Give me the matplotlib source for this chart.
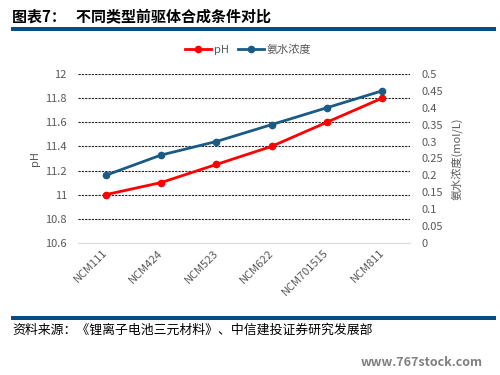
import matplotlib
matplotlib.use("Agg")
import matplotlib.pyplot as plt
from matplotlib.patches import Rectangle

plt.rcParams['font.family'] = ['Noto Sans CJK SC', 'DejaVu Sans']

categories = ["NCM111", "NCM424", "NCM523", "NCM622", "NCM701515", "NCM811"]
ph_values = [11.0, 11.1, 11.25, 11.4, 11.6, 11.8]
ammonia_values = [0.2, 0.26, 0.3, 0.35, 0.4, 0.45]
left_ticks = [10.6, 10.8, 11.0, 11.2, 11.4, 11.6, 11.8, 12.0]
left_tick_labels = ["10.6", "10.8", "11", "11.2", "11.4", "11.6", "11.8", "12"]
right_ticks = [0, 0.05, 0.1, 0.15, 0.2, 0.25, 0.3, 0.35, 0.4, 0.45, 0.5]
right_tick_labels = ["0", "0.05", "0.1", "0.15", "0.2", "0.25", "0.3", "0.35", "0.4", "0.45", "0.5"]

RED = "#FF0000"
BLUE = "#1B5A85"
BAR = "#0B4C7E"
GRAY = "#595959"

fig = plt.figure(figsize=(5, 3.75), dpi=100)
fig.patch.set_facecolor("white")

ax = fig.add_axes([0.156, 0.352, 0.664, 0.451])
ax2 = ax.twinx()

x = list(range(len(categories)))
ax.plot(x, ph_values, color=RED, lw=2, marker="o", ms=4.5, label="pH", zorder=3)
ax2.plot(x, ammonia_values, color=BLUE, lw=2, marker="o", ms=4.5, label="氨水浓度", zorder=3)

ax.set_xlim(-0.5, len(categories) - 0.5)
ax.set_ylim(10.6, 12.0)
ax2.set_ylim(0, 0.5)
ax.set_yticks(left_ticks)
ax.set_yticklabels(left_tick_labels)
ax2.set_yticks(right_ticks)
ax2.set_yticklabels(right_tick_labels)
ax.set_xticks(x)
ax.set_xticklabels(categories, rotation=45, ha="right", va="center", rotation_mode="anchor")

for t in left_ticks[1:]:
    ax.axhline(t, color="#222222", lw=0.8, ls=(0, (2, 1)), zorder=1)

for a in (ax, ax2):
    for s in a.spines.values():
        s.set_visible(False)
    a.tick_params(length=0, colors=GRAY, labelsize=8)
ax.spines["bottom"].set_visible(True)
ax.spines["bottom"].set_color("#D9D9D9")
ax.tick_params(axis="x", pad=6)
ax.tick_params(axis="y", pad=8)
ax2.tick_params(axis="y", pad=8)

ax.set_ylabel("pH", color=GRAY, fontsize=8, labelpad=4)
ax2.set_ylabel("氨水浓度(mol/L)", color=GRAY, fontsize=8, labelpad=6)

h1, l1 = ax.get_legend_handles_labels()
h2, l2 = ax2.get_legend_handles_labels()
fig.legend(h1 + h2, l1 + l2, loc="center", bbox_to_anchor=(0.497, 0.867), ncol=2,
           frameon=False, fontsize=8, labelcolor=GRAY, handlelength=2.3,
           columnspacing=0.8, handletextpad=0.3)

fig.text(0.024, 0.955, "图表7：   不同类型前驱体合成条件对比", fontsize=10.8, fontweight="bold",
         color="black", va="center", ha="left")
fig.add_artist(Rectangle((0.022, 0.918), 0.97, 0.011, transform=fig.transFigure,
                         color=BAR, lw=0))
fig.add_artist(Rectangle((0.022, 0.146), 0.97, 0.011, transform=fig.transFigure,
                         color=BAR, lw=0))
fig.text(0.024, 0.12, "资料来源：《锂离子电池三元材料》、中信建投证券研究发展部", fontsize=9.3,
         color="black", va="center", ha="left", style="italic")
fig.text(0.965, 0.032, "www.767stock.com", fontsize=9, color="#808080",
         va="center", ha="right", fontweight="bold")

fig.savefig("out.png", dpi=100)
